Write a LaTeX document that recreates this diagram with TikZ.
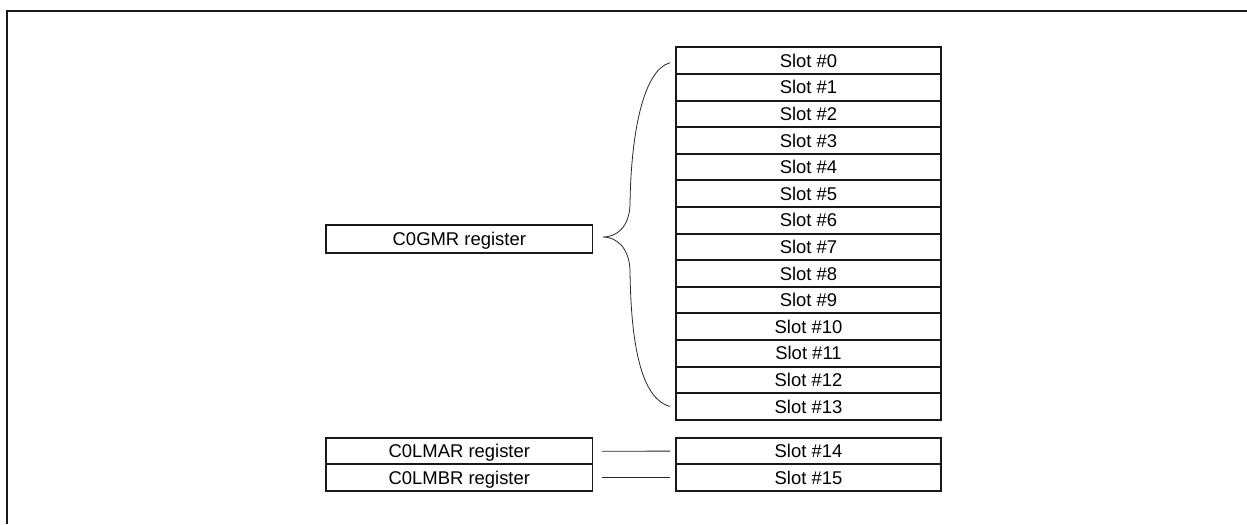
\documentclass[tikz,border=0pt]{standalone}
\usepackage{fontspec}
\setmainfont{Liberation Sans}
\usepackage{tikz}
\usetikzlibrary{calc}

\begin{document}
\begin{tikzpicture}[
    x=0.02cm, y=-0.02cm,
    slotbox/.style = {rectangle,draw=black!90,line width=1.1pt,fill=white,inner sep=0pt,
                      minimum width=5.3cm,minimum height=0.532cm,text height=7.5pt,text depth=0pt,
                      font=\fontsize{10.5}{12}\selectfont},
    regbox/.style  = {slotbox,minimum width=5.33cm},
    ln/.style      = {black!85,line width=0.45pt},
    frm/.style     = {black!90,line width=1.4pt},
  ]

  \useasboundingbox (0,0) rectangle (1247,524);
  \draw[frm] (7,524) -- (7,11) -- (1247,11);

  % Slots du C0GMR
  \node[slotbox] (s0)  at (808.5,60.7)  {Slot \#0};
  \node[slotbox] (s1)  at (808.5,87.3)  {Slot \#1};
  \node[slotbox] (s2)  at (808.5,113.9) {Slot \#2};
  \node[slotbox] (s3)  at (808.5,140.5) {Slot \#3};
  \node[slotbox] (s4)  at (808.5,167.1) {Slot \#4};
  \node[slotbox] (s5)  at (808.5,193.7) {Slot \#5};
  \node[slotbox] (s6)  at (808.5,220.3) {Slot \#6};
  \node[slotbox] (s7)  at (808.5,246.9) {Slot \#7};
  \node[slotbox] (s8)  at (808.5,273.5) {Slot \#8};
  \node[slotbox] (s9)  at (808.5,300.1) {Slot \#9};
  \node[slotbox] (s10) at (808.5,326.7) {Slot \#10};
  \node[slotbox] (s11) at (808.5,353.3) {Slot \#11};
  \node[slotbox] (s12) at (808.5,379.9) {Slot \#12};
  \node[slotbox] (s13) at (808.5,406.5) {Slot \#13};

  % Slots des registres LMAR / LMBR
  \node[slotbox] (s14) at (808.5,451)   {Slot \#14};
  \node[slotbox] (s15) at (808.5,477.6) {Slot \#15};

  \node[regbox,minimum height=0.56cm] (gmr) at (459.3,239) {C0GMR register};
  \node[regbox]  (lmar) at (459.3,451.3) {C0LMAR register};
  \node[regbox]  (lmbr) at (459.3,477.6) {C0LMBR register};

  % Accolade
  \coordinate (btop) at ($(s0.west)+(-5,2)$);
  \coordinate (bbot) at ($(s13.west)+(-5,0)$);
  \coordinate (btip) at ($(gmr.east)+(9.5,-2)$);
  \draw[ln] (btop) .. controls +(-26,7) and +(1,-75) .. ($(btip)+(27,-32)$)
        .. controls +(-1,23) and +(13,0) .. (btip)
        .. controls +(13,0) and +(-1,-23) .. ($(btip)+(27,33)$)
        .. controls +(1,85) and +(-26,-7) .. (bbot);

  \draw[ln,shorten <=4.8pt,shorten >=2.8pt] (lmar) -- (s14);
  \draw[ln,shorten <=4.8pt,shorten >=2.8pt] (lmbr) -- (s15);

\end{tikzpicture}
\end{document}
